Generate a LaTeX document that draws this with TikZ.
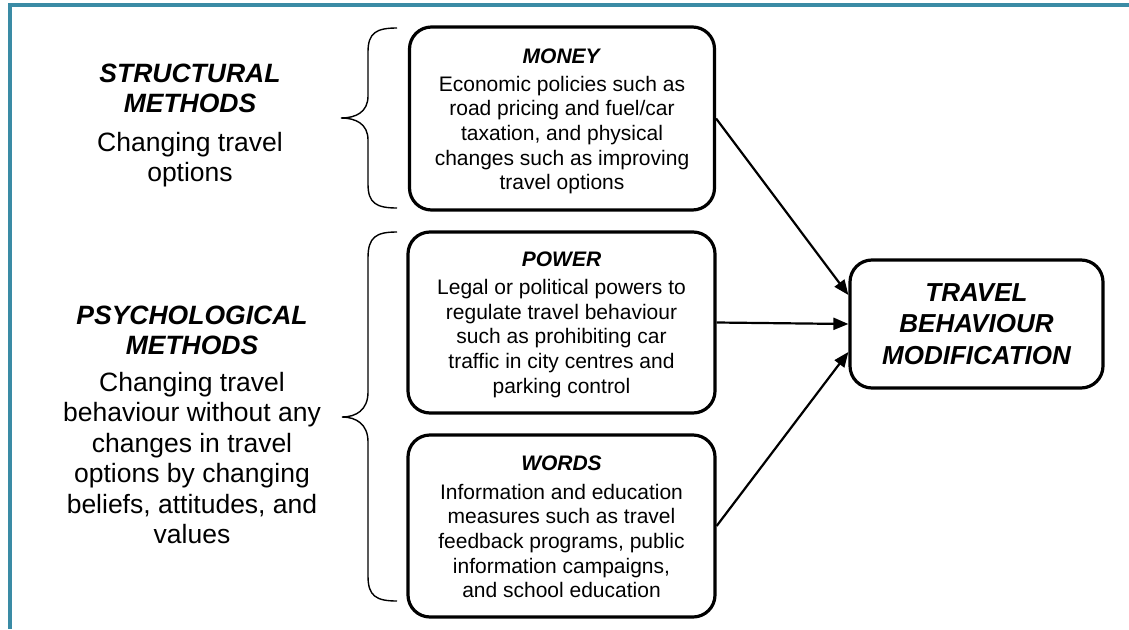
\documentclass[tikz,border=0pt]{standalone}
\usepackage{fontspec}
\setmainfont{Liberation Sans}
\usetikzlibrary{arrows.meta}
\definecolor{frameteal}{HTML}{3A8BA5}
\begin{document}
\begin{tikzpicture}[x=1pt,y=-1pt,
  box/.style={draw=black, line width=3.2pt, rounded corners=22pt, inner sep=0pt},
  boxtext/.style={font=\fontsize{21}{24.6}\selectfont, align=center, inner sep=0pt},
  sidefont/.style={font=\fontsize{26.5}{30.5}\selectfont, align=center, inner sep=0pt},
  conn/.style={line width=2.2pt, -{Triangle[length=15pt,width=12pt]}},
  bracepath/.style={line width=1.4pt}
]
\useasboundingbox (0,0) rectangle (1129,629);
% frame
\fill[frameteal] (8,3) rectangle (1129,7.3);
\fill[frameteal] (8,3) rectangle (12,629);

% boxes
\node[box, minimum width=305pt, minimum height=183pt] (money) at (562,118.5) {};
\node[boxtext] (moneytext) at ([yshift=-3pt]money.center)
  {\textbf{\textit{MONEY}}\\[3pt]
   Economic policies such as\\
   road pricing and fuel/car\\
   taxation, and physical\\
   changes such as improving\\
   travel options};
\node[box, minimum width=307pt, minimum height=181pt] (power) at (561.5,322.5) {};
\node[boxtext] (powertext) at ([yshift=-2pt]power.center)
  {\textbf{\textit{POWER}}\\[4pt]
   Legal or political powers to\\
   regulate travel behaviour\\
   such as prohibiting car\\
   traffic in city centres and\\
   parking control};
\node[box, minimum width=307pt, minimum height=182pt] (words) at (561.5,526) {};
\node[boxtext] (wordstext) at ([yshift=-1pt]words.center)
  {\textbf{\textit{WORDS}}\\[4pt]
   Information and education\\
   measures such as travel\\
   feedback programs, public\\
   information campaigns,\\
   and school education};
\node[box, align=center, font=\fontsize{26}{31.5}\selectfont\bfseries\itshape, minimum width=253pt, minimum height=128pt] (travel) at (976.5,324)
  {TRAVEL\\BEHAVIOUR\\MODIFICATION};

% side texts
\node[sidefont] (structural) at (190,125.5)
  {\textbf{\textit{STRUCTURAL}}\\
   \textbf{\textit{METHODS}}\\[8pt]
   Changing travel\\
   options};
\node[sidefont] (psych) at (192,425)
  {\textbf{\textit{PSYCHOLOGICAL}}\\
   \textbf{\textit{METHODS}}\\[6pt]
   Changing travel\\
   behaviour without any\\
   changes in travel\\
   options by changing\\
   beliefs, attitudes, and\\
   values};

% braces
\draw[bracepath] (397,28) .. controls (376,28) and (368,33) .. (368,52)
  -- (368,96) .. controls (368,112) and (356,118) .. (341,118)
  .. controls (356,118) and (368,124) .. (368,140)
  -- (368,184) .. controls (368,203) and (376,208) .. (397,208);
\draw[bracepath] (397,232) .. controls (376,232) and (368,237) .. (368,258)
  -- (368,392) .. controls (368,410) and (356,417) .. (342,417)
  .. controls (356,417) and (368,424) .. (368,442)
  -- (368,576) .. controls (368,596) and (376,601) .. (397,601);

% connectors
\draw[conn] (money.east) -- ([yshift=29pt]travel.west);
\draw[conn] (power.east) -- (travel.west);
\draw[conn] (words.east) -- ([yshift=-28pt]travel.west);
\end{tikzpicture}
\end{document}
